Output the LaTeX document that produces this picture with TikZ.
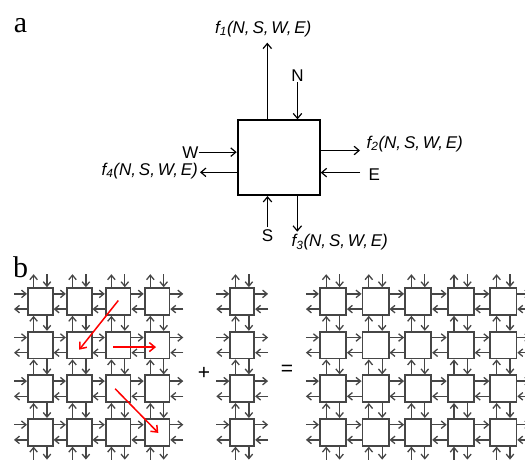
\documentclass[tikz,border=0pt]{standalone}
\usepackage{fontspec}
\setmainfont{Liberation Serif}
\setsansfont{Liberation Sans}
\usetikzlibrary{arrows.meta}
\definecolor{gcol}{RGB}{70,70,70}
\newcommand{\meshlinks}[3]{%
  \foreach \i in {1,...,#2}{
    \foreach \j in {1,...,#3}{
      \pgfmathtruncatemacro{\nxi}{\i+1}
      \pgfmathtruncatemacro{\nxj}{\j+1}
      \ifnum\i<#2
        \draw[garr] ([yshift=7.6pt]#1-\i-\j.east) -- ([yshift=7.6pt]#1-\nxi-\j.west);
        \draw[garr] ([yshift=-7.6pt]#1-\nxi-\j.west) -- ([yshift=-7.6pt]#1-\i-\j.east);
      \fi
      \ifnum\j<#3
        \draw[garr] ([xshift=-6.7pt]#1-\i-\nxj.north) -- ([xshift=-6.7pt]#1-\i-\j.south);
        \draw[garr] ([xshift=6.7pt]#1-\i-\j.south) -- ([xshift=6.7pt]#1-\i-\nxj.north);
      \fi
    }
  }
  \foreach \j in {1,...,#3}{
    \draw[garr] ([shift={(-13pt,7.6pt)}]#1-1-\j.west) -- ([yshift=7.6pt]#1-1-\j.west);
    \draw[garr] ([yshift=-7.6pt]#1-1-\j.west) -- ([shift={(-13pt,-7.6pt)}]#1-1-\j.west);
    \draw[garr] ([yshift=7.6pt]#1-#2-\j.east) -- ([shift={(13pt,7.6pt)}]#1-#2-\j.east);
    \draw[garr] ([shift={(13pt,-7.6pt)}]#1-#2-\j.east) -- ([yshift=-7.6pt]#1-#2-\j.east);
  }
  \foreach \i in {1,...,#2}{
    \draw[garr] ([xshift=-6.7pt]#1-\i-1.north) -- ([shift={(-6.7pt,13pt)}]#1-\i-1.north);
    \draw[garr] ([shift={(6.7pt,13pt)}]#1-\i-1.north) -- ([xshift=6.7pt]#1-\i-1.north);
    \draw[garr] ([shift={(-6.7pt,-13pt)}]#1-\i-#3.south) -- ([xshift=-6.7pt]#1-\i-#3.south);
    \draw[garr] ([xshift=6.7pt]#1-\i-#3.south) -- ([shift={(6.7pt,-13pt)}]#1-\i-#3.south);
  }
}
\begin{document}
\begin{tikzpicture}[x=1pt,y=-1pt,
  lab/.style={font=\sffamily\fontsize{17}{20}\selectfont, inner sep=0pt},
  flab/.style={font=\sffamily\itshape\fontsize{17}{20}\selectfont, inner sep=0pt},
  big/.style={font=\fontsize{30}{32}\selectfont, inner sep=0pt},
  sym/.style={font=\sffamily\fontsize{21}{24}\selectfont, inner sep=0pt},
  cellbox/.style={draw=black, line width=2pt, minimum width=82pt, minimum height=74.7pt, inner sep=0pt},
  tarr/.style={black, line width=1.2pt, -{Straight Barb[length=5pt,width=8.5pt]}},
  lbox/.style={draw=gcol, fill=white, line width=1.8pt, minimum width=24.8pt, minimum height=26.8pt, inner sep=0pt},
  rbox/.style={lbox, minimum width=26.2pt},
  mbox/.style={lbox, minimum width=24pt},
  garr/.style={gcol, line width=1.3pt, -{Straight Barb[length=4.5pt,width=7.5pt]}},
  rarr/.style={red, line width=1.5pt, -{Straight Barb[length=5.5pt,width=9pt]}},
]
\useasboundingbox (0,0) rectangle (525,459);
\clip (0,0) rectangle (525,459);

% ---- part a ----
\node[big, anchor=base] (alab) at (20.5,32) {a};
\node[cellbox] (cell) at (278.7,157.7) {};

\node[flab, anchor=base] (f1lab) at (263.3,33.3) {f\textsubscript{1}(N,\,S,\,W,\,E)};
\coordinate (f1end) at (267.3,42.7);
\draw[tarr] (cell.north -| f1end) -- (f1end);

\node[lab, anchor=base] (Nlab) at (297.5,81) {N};
\draw[tarr] ([yshift=-1pt]Nlab.south) -- (Nlab.south |- cell.north);

\node[lab, anchor=base east] (Wlab) at (198.5,158) {W};
\draw[tarr] (Wlab.east) -- (Wlab.east -| cell.west);

\node[flab, anchor=base east] (f4lab) at (198,175) {f\textsubscript{4}(N,\,S,\,W,\,E)};
\coordinate (f4end) at (200,172.3);
\draw[tarr] (cell.west |- f4end) -- (f4end);

\coordinate (f2end) at (360,150.5);
\draw[tarr] (cell.east |- f2end) -- (f2end);
\node[flab, anchor=base west] (f2lab) at (366.5,148.3) {f\textsubscript{2}(N,\,S,\,W,\,E)};

\node[lab, anchor=base west] (Elab) at (368.3,180) {E};
\coordinate (Estart) at (360,172.6);
\draw[tarr] (Estart) -- (Estart -| cell.east);

\node[lab, anchor=base] (Slab) at (267.5,241.7) {S};
\draw[tarr] ([yshift=2.5pt]Slab.north) -- (Slab.north |- cell.south);

\coordinate (f3end) at (297.3,231.7);
\draw[tarr] (cell.south -| f3end) -- (f3end);
\node[flab, anchor=base west] (f3lab) at (291.5,246.7) {f\textsubscript{3}(N,\,S,\,W,\,E)};

% ---- part b ----
\node[big, anchor=base] (blab) at (20.5,277) {b};

\foreach \i in {1,...,4}
  \foreach \j in {1,...,4}
    \node[lbox] (L-\i-\j) at ({40.3+38.9*(\i-1)},{301.5+43.6*(\j-1)}) {};
\meshlinks{L}{4}{4}

\foreach \j in {1,...,4}
  \node[mbox] (M-1-\j) at (242.2,{301.5+43.6*(\j-1)}) {};
\meshlinks{M}{1}{4}

\foreach \i in {1,...,5}
  \foreach \j in {1,...,4}
    \node[rbox] (R-\i-\j) at ({332.9+42.6*(\i-1)},{301.5+43.6*(\j-1)}) {};
\meshlinks{R}{5}{4}

\node[sym] (plus) at (204,373) {+};
\node[sym] (eq) at (287,370) {=};

\draw[rarr] ([shift={(0.2pt,1pt)}]L-3-1.center) -- ([shift={(0pt,-4.6pt)}]L-2-2.center);
\draw[rarr] ([shift={(-4.8pt,-2pt)}]L-3-2.center) -- ([shift={(-1pt,-2pt)}]L-4-2.center);
\draw[rarr] ([shift={(-3pt,0pt)}]L-3-3.center) -- ([shift={(1.3pt,-0.6pt)}]L-4-4.center);
\end{tikzpicture}
\end{document}
